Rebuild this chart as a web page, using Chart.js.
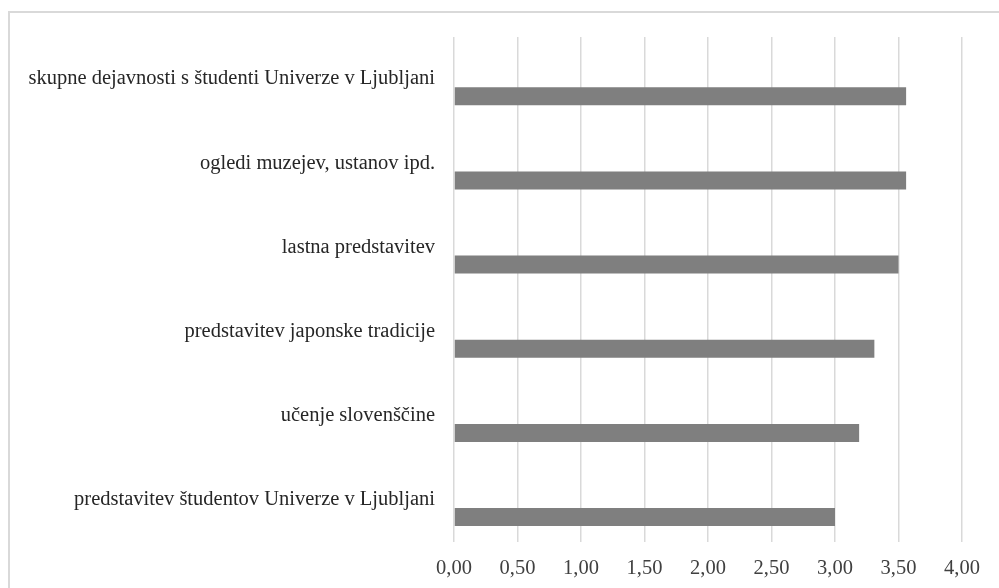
<!DOCTYPE html>
<html>
<head>
<meta charset="utf-8">
<script src="https://cdn.jsdelivr.net/npm/chart.js@4.4.1/dist/chart.umd.min.js"></script>
<style>
  html, body { margin: 0; padding: 0; background: #ffffff; }
  #wrap { position: relative; width: 999px; height: 588px; overflow: hidden; background: #ffffff; }
  #frame { position: absolute; left: 8px; top: 11px; width: 1020px; height: 620px; border: 2px solid #d9d9d9; box-sizing: border-box; }
  #c { position: absolute; left: 0; top: 0; }
</style>
</head>
<body>
<div id="wrap">
  <div id="frame"></div>
  <canvas id="c" width="999" height="588"></canvas>
</div>
<script>
const categories = [
  "skupne dejavnosti s študenti Univerze v Ljubljani",
  "ogledi muzejev, ustanov ipd.",
  "lastna predstavitev",
  "predstavitev japonske tradicije",
  "učenje slovenščine",
  "predstavitev študentov Univerze v Ljubljani"
];
const values = [3.56, 3.56, 3.50, 3.31, 3.19, 3.00];
const placeholder = [null, null, null, null, null, null];
const xMin = 0;
const xMax = 4;
const xStep = 0.5;

const FONT = "'Liberation Serif', 'Times New Roman', serif";

new Chart(document.getElementById('c'), {
  type: 'bar',
  data: {
    labels: categories,
    datasets: [
      { label: '', data: placeholder, backgroundColor: 'rgba(0,0,0,0)' },
      { label: 'povprečje', data: values, backgroundColor: '#7f7f7f', borderWidth: 0 }
    ]
  },
  options: {
    indexAxis: 'y',
    responsive: false,
    animation: false,
    categoryPercentage: 0.817,
    barPercentage: 0.523,
    layout: { padding: { top: 37, right: 37, left: 0, bottom: 0 } },
    plugins: { legend: { display: false }, tooltip: { enabled: false } },
    scales: {
      x: {
        min: xMin, max: xMax,
        border: { display: false },
        grid: { color: '#d9d9d9', lineWidth: 1.5, drawTicks: false },
        ticks: {
          stepSize: xStep,
          padding: 14,
          color: '#404040',
          font: { family: FONT, size: 20.5 },
          callback: (v) => Number(v).toFixed(2).replace('.', ',')
        },
        afterFit: (s) => { s.height = 46; }
      },
      y: {
        border: { display: false },
        grid: { display: false, drawTicks: false },
        ticks: {
          padding: 19,
          color: '#262626',
          font: { family: FONT, size: 20.5 }
        },
        afterFit: (s) => { s.width = 454; }
      }
    }
  }
});
</script>
</body>
</html>
